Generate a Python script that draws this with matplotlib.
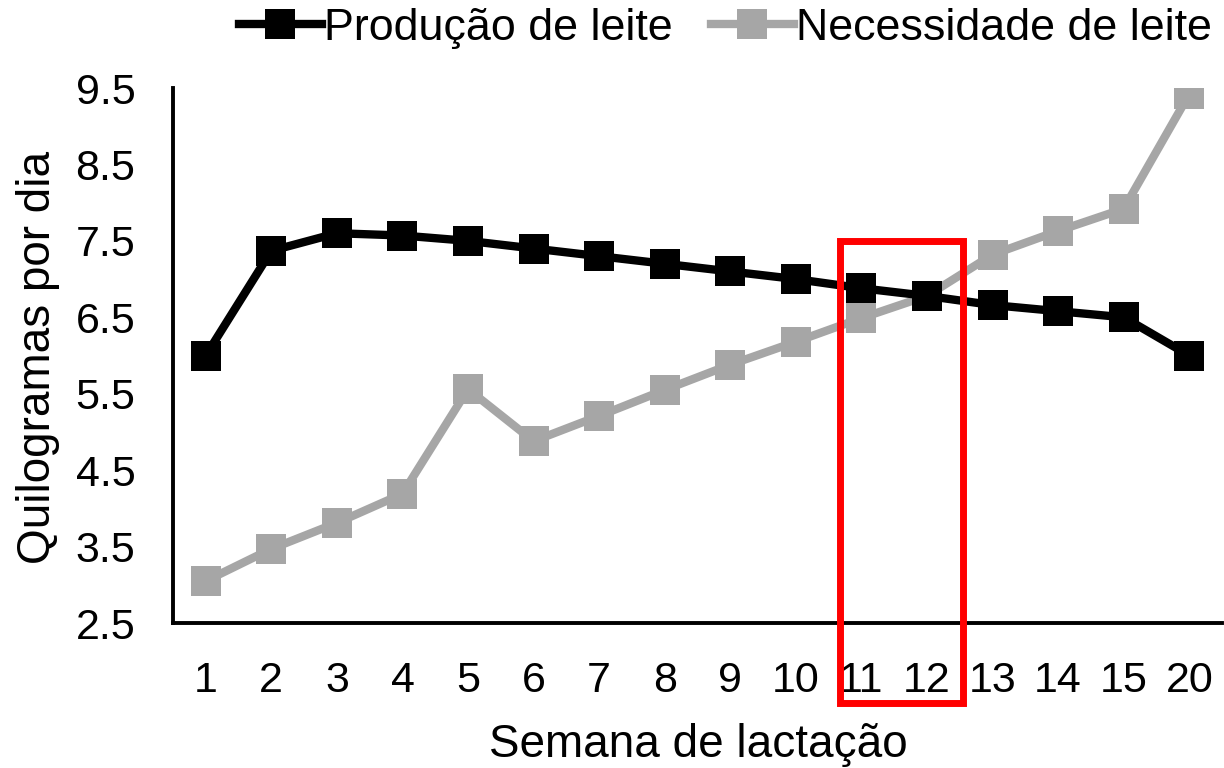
import matplotlib
matplotlib.use("Agg")
import matplotlib.pyplot as plt
from matplotlib.patches import Rectangle

# Weeks of lactation (categorical labels)
weeks = ["1", "2", "3", "4", "5", "6", "7", "8", "9", "10",
         "11", "12", "13", "14", "15", "20"]

# Milk production (kg/day)
producao = [6.0, 7.37, 7.6, 7.57, 7.5, 7.4, 7.3, 7.2, 7.1, 7.0,
            6.88, 6.78, 6.66, 6.58, 6.5, 6.0]

# Milk requirement (kg/day)
necessidade = [3.05, 3.47, 3.81, 4.19, 5.56, 4.88, 5.21, 5.55, 5.88, 6.18,
               6.49, 6.78, 7.32, 7.63, 7.92, 9.42]

yticks = [2.5, 3.5, 4.5, 5.5, 6.5, 7.5, 8.5, 9.5]

plt.rcParams["font.family"] = ["Liberation Sans", "DejaVu Sans"]
FS_TICK = 31
FS_LABEL = 33
FS_LEGEND = 32.3

fig = plt.figure(figsize=(12.24, 7.68), dpi=100)
ax = fig.add_axes([0.1413, 0.1888, 0.8571, 0.6966])

x = list(range(len(weeks)))
ax.plot(x, producao, color="#000000", lw=6, marker="s", ms=21.5,
        markeredgewidth=0, label="Produção de leite", zorder=3)
ax.plot(x, necessidade, color="#A6A6A6", lw=6, marker="s", ms=21.5,
        markeredgewidth=0, label="Necessidade de leite", zorder=2)

ax.set_xlim(-0.5, len(weeks) - 0.5)
ax.set_ylim(2.5, 9.5)
ax.set_xticks(x)
ax.set_xticklabels(weeks)
ax.set_yticks(yticks)
ax.set_yticklabels([f"{v:.1f}" for v in yticks])
ax.tick_params(axis="both", length=0, labelsize=FS_TICK)
ax.tick_params(axis="y", pad=27)
ax.tick_params(axis="x", pad=27)

for side in ("top", "right"):
    ax.spines[side].set_visible(False)
for side in ("left", "bottom"):
    ax.spines[side].set_linewidth(2.8)
    ax.spines[side].set_color("#000000")

fig.text(38 / 1224, 1 - 357 / 768, "Quilogramas por dia", rotation=90,
         ha="center", va="center", fontsize=FS_LABEL)
fig.text(698 / 1224, 1 - 745 / 768, "Semana de lactação",
         ha="center", va="center", fontsize=FS_LABEL)

fig.legend(loc="upper right", bbox_to_anchor=(1212 / 1224, 1 - 8 / 768),
           ncol=2, frameon=False, fontsize=FS_LEGEND, handlelength=1.85,
           handletextpad=0.05, columnspacing=0.85, borderpad=0,
           borderaxespad=0)

# Highlight box around weeks 11-12
rect = Rectangle((840 / 1224, 1 - 703 / 768), (963 - 840) / 1224,
                 (703 - 241) / 768, transform=fig.transFigure,
                 fill=False, edgecolor="#FF0000", lw=5, zorder=10)
fig.add_artist(rect)

fig.savefig("out.png", dpi=100)
